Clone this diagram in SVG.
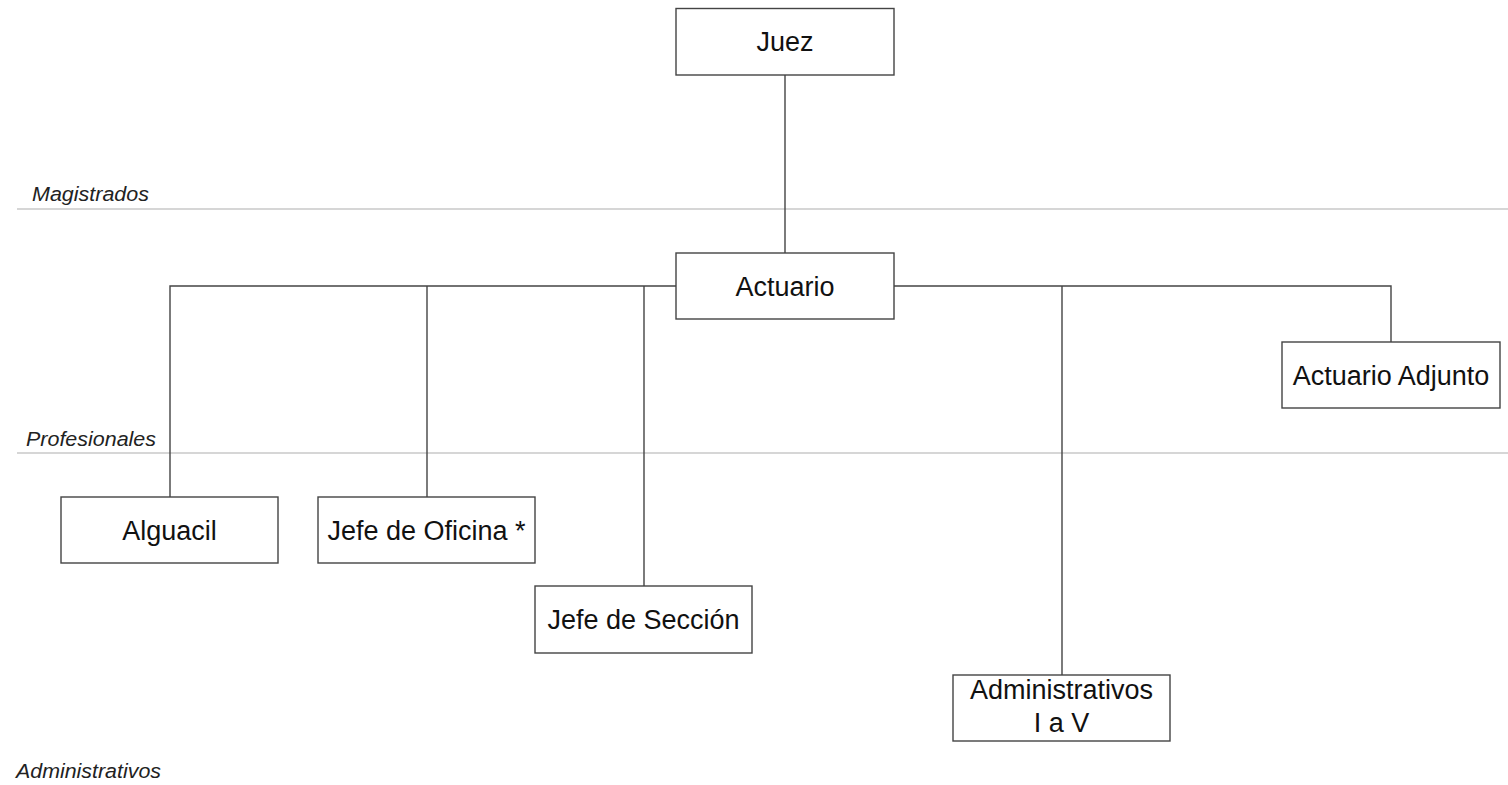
<svg xmlns="http://www.w3.org/2000/svg" width="1508" height="785" viewBox="0 0 1508 785">
<style>
.sep{stroke:#c8c8c8;stroke-width:1.3;fill:none}
.lbl{font-family:"Liberation Sans",Arial,sans-serif;font-style:italic;font-size:20.5px;fill:#222}
.conn{stroke:#444;stroke-width:1.4;fill:none}
.box{fill:#fff;stroke:#444;stroke-width:1.4}
.txt{font-family:"Liberation Sans",Arial,sans-serif;font-size:27px;fill:#111;text-anchor:middle}
</style>
<rect width="1508" height="785" fill="#fff"/>
<g id="bands">
<line class="sep" x1="17" y1="209" x2="1508" y2="209"/>
<line class="sep" x1="17" y1="453" x2="1508" y2="453"/>
<text class="lbl" x="32" y="201" textLength="117" lengthAdjust="spacingAndGlyphs">Magistrados</text>
<text class="lbl" x="26" y="446" textLength="130" lengthAdjust="spacingAndGlyphs">Profesionales</text>
<text class="lbl" x="16" y="778" textLength="145" lengthAdjust="spacingAndGlyphs">Administrativos</text>
</g>
<g id="connectors">
<path class="conn" d="M785 75V253"/>
<path class="conn" d="M676 286H170V497"/>
<path class="conn" d="M427 286V497"/>
<path class="conn" d="M644 286V586"/>
<path class="conn" d="M894 286H1391V342"/>
<path class="conn" d="M1062 286V675"/>
</g>
<g id="juez">
<rect class="box" x="676" y="8.5" width="218" height="66.5"/>
<text class="txt" x="785" y="51">Juez</text>
</g>
<g id="actuario">
<rect class="box" x="676" y="253" width="218" height="66"/>
<text class="txt" x="785" y="296">Actuario</text>
</g>
<g id="actuario-adjunto">
<rect class="box" x="1282" y="342" width="218" height="66"/>
<text class="txt" x="1391" y="385">Actuario Adjunto</text>
</g>
<g id="alguacil">
<rect class="box" x="61" y="497" width="217" height="66"/>
<text class="txt" x="169.5" y="539.5">Alguacil</text>
</g>
<g id="jefe-oficina">
<rect class="box" x="318" y="497" width="217" height="66"/>
<text class="txt" x="426.5" y="539.5">Jefe de Oficina *</text>
</g>
<g id="jefe-seccion">
<rect class="box" x="535" y="586" width="217" height="67"/>
<text class="txt" x="643.5" y="629">Jefe de Sección</text>
</g>
<g id="administrativos">
<rect class="box" x="953" y="675" width="217" height="66"/>
<text class="txt" x="1061.5" y="699">Administrativos</text>
<text class="txt" x="1061.5" y="732">I a V</text>
</g>
</svg>
